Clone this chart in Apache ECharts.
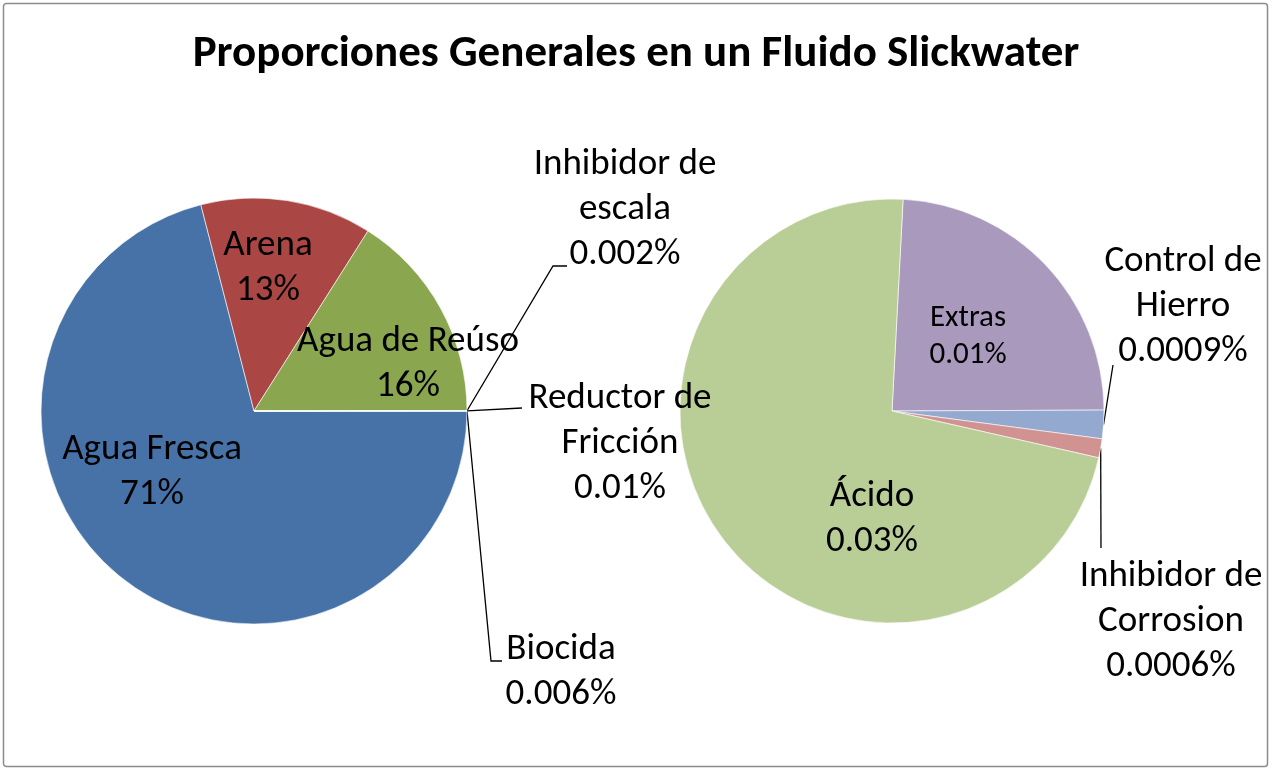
<!DOCTYPE html>
<html>
<head>
<meta charset="utf-8">
<title>Proporciones Generales en un Fluido Slickwater</title>
<script src="https://cdn.jsdelivr.net/npm/echarts@6/dist/echarts.min.js"></script>
<style>
html, body { margin: 0; padding: 0; background: #fff; }
#main { width: 1272px; height: 771px; }
</style>
</head>
<body>
<div id="main"></div>
<script>
// pastel principal (%)
var mainNames = ['Agua Fresca', 'Arena', 'Agua de Reúso', 'Inhibidor de\nescala', 'Reductor de\nFricción', 'Biocida'];
var mainValues = [71, 13, 16, 0.002, 0.01, 0.006];
// pastel secundario (%)
var subNames = ['Extras', 'Control de\nHierro', 'Inhibidor de\nCorrosion', 'Ácido'];
var subValues = [0.01, 0.0009, 0.0006, 0.03];

var mainColors = ['#4672A8', '#AA4644', '#8AA64F', '#71588F', '#4198AF', '#DB843D'];
var subColors = ['#A99ABD', '#94A9CF', '#D19392', '#B9CD96'];

// donde va cada etiqueta (centro del texto) y los quiebres de las guias
var mainSpots = [[152, 472], [268, 268], [408, 364], [625, 210], [620, 444], [561, 672]];
var mainBends = [null, null, null, [[553, 266], [567, 266]], [[522, 408], [522, 408]], [[491, 661], [502, 661]]];
var subSpots = [[968, 337], [1183, 307], [1171, 622], [872, 519]];
var subBends = [null, [[1113, 365], [1113, 365]], [[1101, 548], [1101, 548]], null];

var FONT = 'Carlito, Lato, sans-serif';

function buildData(names, values, colors, bends, small) {
    return names.map(function (n, i) {
        var item = {
            name: n,
            value: values[i],
            itemStyle: { color: colors[i] },
            labelLine: { show: !!bends[i] }
        };
        if (small && small[i]) item.label = { fontSize: small[i], lineHeight: 37 };
        return item;
    });
}

function placeLabels(spots, bends) {
    return function (params) {
        var i = params.dataIndex;
        var out = { x: spots[i][0], y: spots[i][1], align: 'center', verticalAlign: 'middle' };
        if (bends[i]) {
            var start = params.labelLinePoints ? params.labelLinePoints[0] : bends[i][0];
            out.labelLinePoints = [start, bends[i][0], bends[i][1]];
        }
        return out;
    };
}

var pieLabel = {
    show: true,
    position: 'outside',
    formatter: '{b}\n{c}%',
    color: '#000',
    fontFamily: FONT,
    fontSize: 37,
    lineHeight: 45,
    align: 'center'
};
var pieLine = { show: true, lineStyle: { color: '#000', width: 1.3 }, length: 10, length2: 10 };

var myChart = echarts.init(document.getElementById('main'));
var option = {
    backgroundColor: '#fff',
    animation: false,
    title: {
        text: 'Proporciones Generales en un Fluido Slickwater',
        left: 'center',
        top: 27,
        textStyle: { fontFamily: FONT, fontSize: 45, fontWeight: 'bold', color: '#000' }
    },
    graphic: [{
        type: 'rect',
        shape: { x: 3.5, y: 3.5, width: 1264, height: 763, r: 3 },
        style: { fill: 'none', stroke: '#8c8c8c', lineWidth: 1.5 },
        silent: true
    }],
    series: [
        {
            name: 'principal',
            type: 'pie',
            center: [254, 411],
            radius: 213,
            startAngle: 0,
            clockwise: true,
            avoidLabelOverlap: false,
            silent: true,
            itemStyle: { borderColor: '#fff', borderWidth: 0.6 },
            label: pieLabel,
            labelLine: pieLine,
            labelLayout: placeLabels(mainSpots, mainBends),
            data: buildData(mainNames, mainValues, mainColors, mainBends)
        },
        {
            name: 'secundario',
            type: 'pie',
            center: [892, 411],
            radius: 212,
            startAngle: 87,
            clockwise: true,
            avoidLabelOverlap: false,
            silent: true,
            itemStyle: { borderColor: '#fff', borderWidth: 0.6 },
            label: pieLabel,
            labelLine: pieLine,
            labelLayout: placeLabels(subSpots, subBends),
            data: buildData(subNames, subValues, subColors, subBends, [31, 0, 0, 0])
        }
    ]
};
myChart.setOption(option);
</script>
</body>
</html>
